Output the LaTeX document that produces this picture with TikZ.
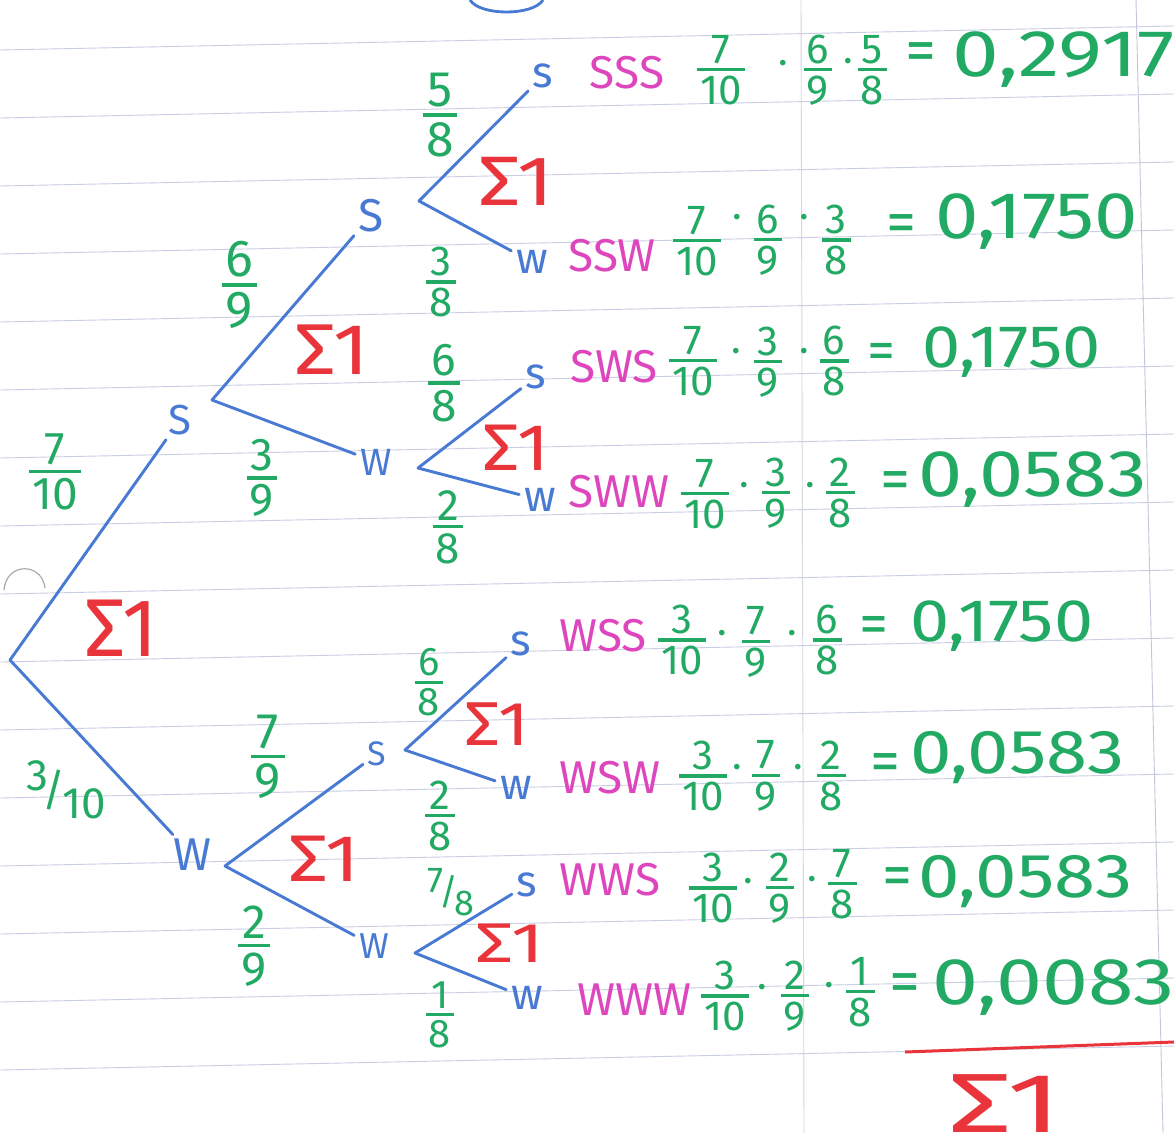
\documentclass[tikz,border=0pt]{standalone}
\usepackage{fontspec}
\setmainfont{Fira Sans}
\definecolor{pblue}{RGB}{72,122,212}
\definecolor{pgreen}{RGB}{34,170,100}
\definecolor{ppink}{RGB}{222,70,190}
\definecolor{pred}{RGB}{232,52,58}
\definecolor{pline}{RGB}{200,206,228}
\definecolor{pvline}{RGB}{212,214,224}
\definecolor{phole}{RGB}{170,170,170}
\newcommand\fs[1]{\fontsize{#1}{#1}\selectfont}
\newcommand\fr[2]{\begingroup\setbox0\hbox{#1}\setbox2\hbox{#2}%
 \dimen0=\ifdim\wd0>\wd2 \wd0\else\wd2\fi\advance\dimen0 by 0.14em
 \vbox{\hbox to\dimen0{\hss\box0\hss}\kern0.11em\hrule height 0.075em\kern0.11em\hbox to\dimen0{\hss\box2\hss}}\endgroup}
\newcommand\sfr[2]{\raisebox{0.35em}{#1}\kern-0.12em/\kern-0.08em\raisebox{-0.3em}{#2}}
\newcommand\sg[2]{\scalebox{#1}[1]{#2}}
\begin{document}
\begin{tikzpicture}[x=1pt,y=-1pt,
 nd/.style={text=pblue, font=\fs{42}, inner sep=3pt},
 lf/.style={text=pblue, font=\fs{44}, inner sep=3pt},
 br/.style={draw=pblue, line width=2.9pt, line cap=round, shorten >=2pt},
 pr/.style={text=pgreen, inner sep=0pt},
 cf/.style={text=pgreen, font=\fs{42}, inner sep=0pt},
 lab/.style={text=ppink, font=\fs{46}, inner sep=0pt},
 sig/.style={text=pred, inner sep=0pt},
 val/.style={text=pgreen, anchor=west, inner sep=0pt},
 eqn/.style={text=pgreen, inner sep=0pt},
 dotn/.style={text=pgreen, font=\fs{40}, inner sep=0pt},
 paperline/.style={draw=pline, line width=0.9pt},
 vline/.style={draw=pvline, line width=0.9pt},
]
\fill[white] (0,0) rectangle (1174,1133);
\useasboundingbox (0,0) rectangle (1174,1133);
% paper
\foreach \k in {0,...,15} \draw[paperline] (0,{50+68*\k}) -- (1174,{26+68*\k});
\draw[vline] (801,0) -- (804,1133);
\draw[vline, draw=pline!90!gray] (1136,0) -- (1163,1133);
\draw[phole, line width=1.2pt] (4,590) .. controls (6,562) and (42,562) .. (45,588);
\draw[pblue, line width=2.8pt] (470,0) .. controls (480,16) and (533,16) .. (543,0);

% tree nodes
\coordinate (root) at (10,660);
\node[nd] (s1) at (180,420) {S};
\node[nd, font=\fs{46}] (w1) at (192,855) {W};
\node[nd, font=\fs{46}] (s2a) at (371,216) {S};
\node[nd, font=\fs{38}] (w2a) at (376,462) {W};
\node[nd, font=\fs{34}] (s2b) at (377,754) {S};
\node[nd, font=\fs{36}] (w2b) at (374,946) {W};
\node[lf] (l1) at (543,76) {s};
\node[lf] (l2) at (532,262) {w};
\node[lf] (l3) at (536,377) {s};
\node[lf] (l4) at (540,500) {w};
\node[lf] (l5) at (521,644) {s};
\node[lf] (l6) at (516,788) {w};
\node[lf] (l7) at (527,885) {s};
\node[lf] (l8) at (527,998) {w};
\coordinate (k1) at (212,400);
\coordinate (k2) at (225,866);
\coordinate (k3) at (419,201);
\coordinate (k4) at (418,468);
\coordinate (k5) at (405,750);
\coordinate (k6) at (415,953);
% edges
\draw[br] (root) -- (s1);
\draw[br] (root) -- (w1);
\draw[br] (k1) -- (s2a);
\draw[br] (k1) -- (w2a);
\draw[br] (k2) -- (s2b);
\draw[br] (k2) -- (w2b);
\draw[br] (k3) -- (l1);
\draw[br] (k3) -- (l2);
\draw[br] (k4) -- (l3);
\draw[br] (k4) -- (l4);
\draw[br] (k5) -- (l5);
\draw[br] (k5) -- (l6);
\draw[br] (k6) -- (l7);
\draw[br] (k6) -- (l8);

% branch probabilities
\node[pr, font=\fs{46}] (p1) at (55,472) {\fr{7}{10}};
\node[pr, font=\fs{44}] (p2) at (66,790) {\sfr{3}{10}};
\node[pr, font=\fs{52}] (p3) at (239,285) {\fr{6}{9}};
\node[pr, font=\fs{46}] (p4) at (262,478) {\fr{3}{9}};
\node[pr, font=\fs{50}] (p5) at (440,115) {\fr{5}{8}};
\node[pr, font=\fs{42}] (p6) at (441,282) {\fr{3}{8}};
\node[pr, font=\fs{46}] (p7) at (444,383) {\fr{6}{8}};
\node[pr, font=\fs{44}] (p8) at (448,527) {\fr{2}{8}};
\node[pr, font=\fs{50}] (p9) at (268,757) {\fr{7}{9}};
\node[pr, font=\fs{48}] (p10) at (254,946) {\fr{2}{9}};
\node[pr, font=\fs{40}] (p11) at (429,682) {\fr{6}{8}};
\node[pr, font=\fs{42}] (p12) at (440,816) {\fr{2}{8}};
\node[pr, font=\fs{36}] (p13) at (451,892) {\sfr{7}{8}};
\node[pr, font=\fs{40}] (p14) at (440,1015) {\fr{1}{8}};

% sums
\node[sig, font=\fs{82}] (sg0) at (121,628) {\sg{1.0}{Σ1}};
\node[sig, font=\fs{72}] (sg1) at (332,350) {\sg{1.15}{Σ1}};
\node[sig, font=\fs{70}] (sg2) at (516,181) {\sg{1.2}{Σ1}};
\node[sig, font=\fs{66}] (sg3) at (516,448) {\sg{1.12}{Σ1}};
\node[sig, font=\fs{66}] (sg4) at (324,859) {\sg{1.2}{Σ1}};
\node[sig, font=\fs{62}] (sg5) at (497,724) {\sg{1.15}{Σ1}};
\node[sig, font=\fs{56}] (sg6) at (510,943) {\sg{1.35}{Σ1}};
\node[sig, font=\fs{84}] (sg7) at (1005,1104) {\sg{1.5}{Σ1}};
\coordinate (ra) at (905,1052);
\coordinate (rb) at (1174,1042);
\draw[pred, line width=3pt] (ra) -- (rb);

% outcome labels
\node[lab] (o1) at (627,73) {SSS};
\node[lab] (o2) at (612,256) {SSW};
\node[lab] (o3) at (614,367) {SWS};
\node[lab] (o4) at (619,492) {SWW};
\node[lab] (o5) at (603,636) {WSS};
\node[lab] (o6) at (610,778) {WSW};
\node[lab] (o7) at (610,880) {WWS};
\node[lab] (o8) at (634,1000) {WWW};

% row 1
\node[cf] (a1) at (721,70) {\fr{7}{10}};
\node[dotn] (ad1) at (783,68) {·};
\node[cf] (b1) at (818,70) {\fr{6}{9}};
\node[dotn] (bd1) at (848,66) {·};
\node[cf] (c1) at (872,70) {\fr{5}{8}};
\node[eqn, font=\fs{62}] (e1) at (921,57) {=};
\node[val, font=\fs{66}] (v1) at (952,60) {\sg{1.27}{0,2917}};
% row 2
\node[cf] (a2) at (697,241) {\fr{7}{10}};
\node[dotn] (ad2) at (737,222) {·};
\node[cf] (b2) at (768,240) {\fr{6}{9}};
\node[dotn] (bd2) at (804,222) {·};
\node[cf] (c2) at (836,240) {\fr{3}{8}};
\node[eqn, font=\fs{60}] (e2) at (901,229) {=};
\node[val, font=\fs{66}] (v2) at (935,222) {\sg{1.18}{0,1750}};
% row 3
\node[cf] (a3) at (693,361) {\fr{7}{10}};
\node[dotn] (ad3) at (736,356) {·};
\node[cf] (b3) at (768,362) {\fr{3}{9}};
\node[dotn] (bd3) at (804,356) {·};
\node[cf] (c3) at (834,361) {\fr{6}{8}};
\node[eqn, font=\fs{56}] (e3) at (881,356) {=};
\node[val, font=\fs{60}] (v3) at (922,352) {\sg{1.14}{0,1750}};
% row 4
\node[cf] (a4) at (705,494) {\fr{7}{10}};
\node[dotn] (ad4) at (744,490) {·};
\node[cf] (b4) at (776,493) {\fr{3}{9}};
\node[dotn] (bd4) at (810,490) {·};
\node[cf] (c4) at (840,493) {\fr{2}{8}};
\node[eqn, font=\fs{60}] (e4) at (895,486) {=};
\node[val, font=\fs{66}] (v4) at (918,480) {\sg{1.2}{0,0583}};
% row 5
\node[cf] (a5) at (682,640) {\fr{3}{10}};
\node[dotn] (ad5) at (722,638) {·};
\node[cf] (b5) at (756,642) {\fr{7}{9}};
\node[dotn] (bd5) at (792,638) {·};
\node[cf] (c5) at (827,640) {\fr{6}{8}};
\node[eqn, font=\fs{58}] (e5) at (874,630) {=};
\node[val, font=\fs{60}] (v5) at (910,626) {\sg{1.17}{0,1750}};
% row 6
\node[cf] (a6) at (703,776) {\fr{3}{10}};
\node[dotn] (ad6) at (737,772) {·};
\node[cf] (b6) at (766,776) {\fr{7}{9}};
\node[dotn] (bd6) at (798,772) {·};
\node[cf] (c6) at (831,776) {\fr{2}{8}};
\node[eqn, font=\fs{60}] (e6) at (885,768) {=};
\node[val, font=\fs{62}] (v6) at (910,758) {\sg{1.2}{0,0583}};
% row 7
\node[cf] (a7) at (713,888) {\fr{3}{10}};
\node[dotn] (ad7) at (748,886) {·};
\node[cf] (b7) at (780,888) {\fr{2}{9}};
\node[dotn] (bd7) at (812,884) {·};
\node[cf] (c7) at (842,884) {\fr{7}{8}};
\node[eqn, font=\fs{60}] (e7) at (897,882) {=};
\node[val, font=\fs{62}] (v7) at (918,882) {\sg{1.2}{0,0583}};
% row 8
\node[cf] (a8) at (725,996) {\fr{3}{10}};
\node[dotn] (ad8) at (762,992) {·};
\node[cf] (b8) at (795,996) {\fr{2}{9}};
\node[dotn] (bd8) at (829,990) {·};
\node[cf] (c8) at (860,992) {\fr{1}{8}};
\node[eqn, font=\fs{62}] (e8) at (905,988) {=};
\node[val, font=\fs{66}] (v8) at (932,988) {\sg{1.25}{0,0083}};
\end{tikzpicture}
\end{document}
